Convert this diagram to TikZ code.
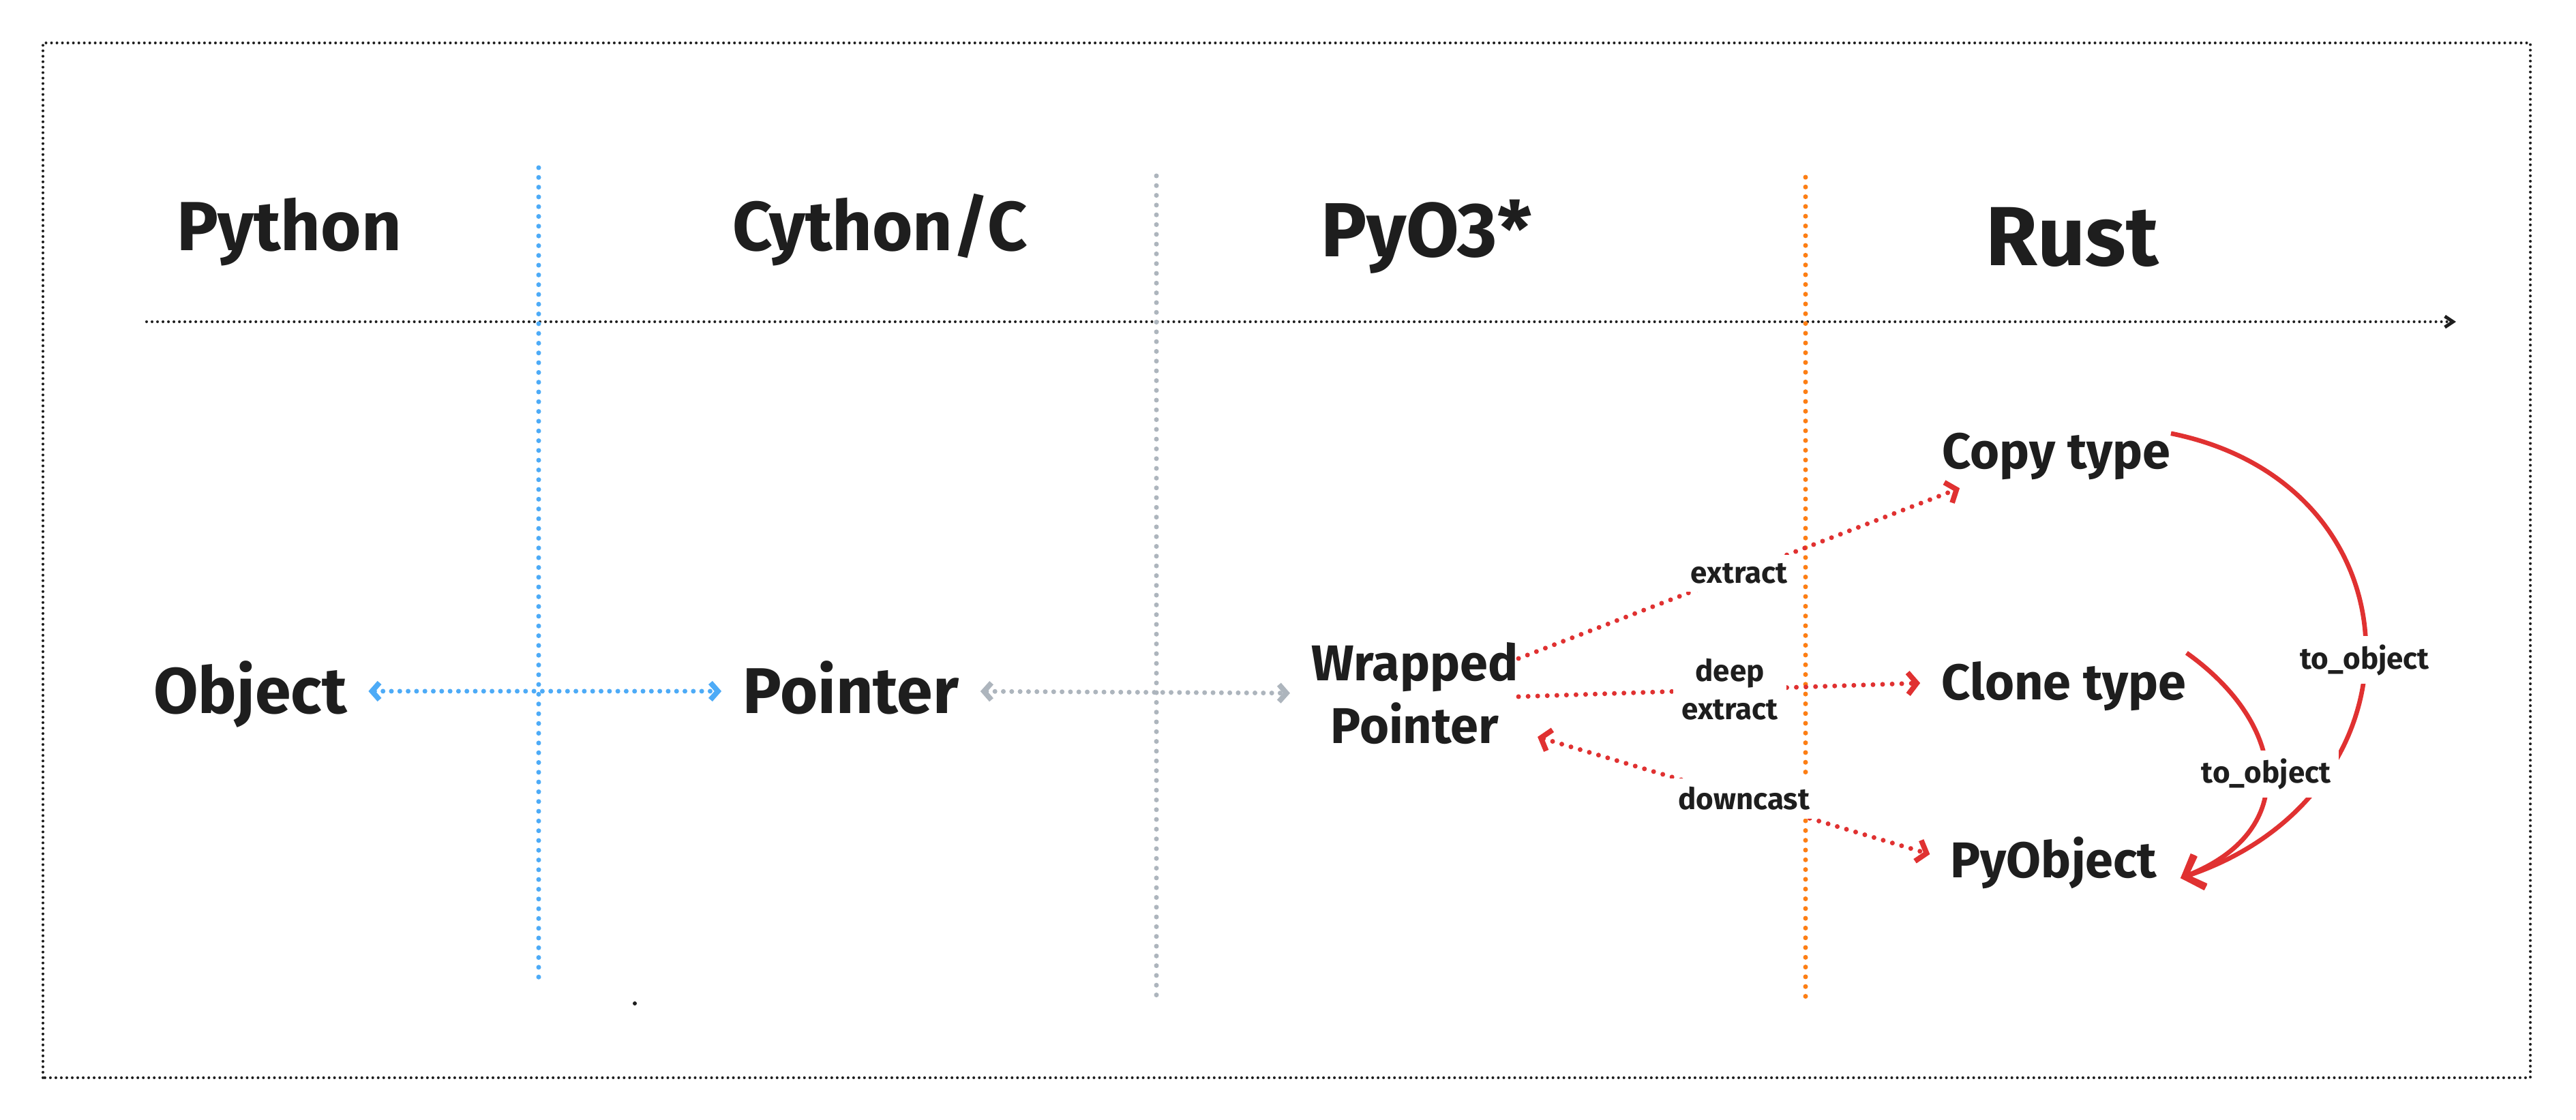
\documentclass[tikz,border=0pt]{standalone}
\usepackage{fontspec}
\setmainfont{Fira Sans}
\usetikzlibrary{arrows.meta}
\definecolor{ink}{HTML}{1E1E1E}
\definecolor{xred}{HTML}{E03131}
\definecolor{xblue}{HTML}{4DABF7}
\definecolor{xgray}{HTML}{ADB5BD}
\definecolor{xorange}{HTML}{FD7E14}

\begin{document}
\begin{tikzpicture}[
  every node/.style={text=ink},
  lane/.style={anchor=base, font=\bfseries\fontsize{29}{35}\selectfont},
  bigword/.style={inner sep=0pt, text height=18.6pt, text depth=0pt, font=\bfseries\fontsize{27}{32}\selectfont},
  word/.style={inner sep=0pt, text height=14.5pt, text depth=0pt, font=\bfseries\fontsize{21}{26}\selectfont},
  lbl/.style={fill=white, inner sep=0.12cm, align=center, font=\bfseries\fontsize{12.5}{16}\selectfont},
  fine/.style={ink, line width=1.15pt, line cap=round, dash pattern=on 0pt off 2.28pt},
  coarse/.style={line width=2pt, line cap=round, dash pattern=on 0pt off 4.07pt},
  reddots/.style={xred, line width=2pt, line cap=round, dash pattern=on 0pt off 4pt,
    >={Straight Barb[length=1.3mm, width=3.2mm, line width=2.2pt]}},
  link/.style={line width=2pt, line cap=round, dash pattern=on 0pt off 3.5pt, <->,
    shorten <=0.31cm, shorten >=0.31cm,
    >={Straight Barb[length=1.1mm, width=2.5mm, line width=2.2pt]}},
  conv/.style={xred, line width=1.9pt, -{Straight Barb[length=2.4mm, width=5mm, line width=2.6pt]}}
]
  \useasboundingbox (0,0) rectangle (37.78,16.43);
  \fill[white] (0,0) rectangle (37.78,16.43);
  \draw[fine] (0.63,0.62) rectangle (37.11,15.80);

  \node[lane] (python) at (4.24,12.75) {Python};
  \node[lane] (cython) at (12.91,12.75) {Cython/C};
  \node[lane, font=\bfseries\fontsize{32}{38}\selectfont] (pyo3) at (20.92,12.66) {PyO3*};
  \node[lane, font=\bfseries\fontsize{35}{42}\selectfont] (rust) at (30.39,12.53) {Rust};

  \draw[fine, -{Straight Barb[length=1.2mm, width=1.6mm, line width=1.4pt]}] (2.15,11.71) -- (36.02,11.71);
  \draw[coarse, xblue] (7.90,13.97) -- (7.90,1.97);
  \draw[coarse, xgray] (16.96,13.85) -- (16.96,1.80);
  \draw[coarse, xorange] (26.48,13.83) -- (26.48,1.80);
  \fill[ink] (9.31,1.71) circle (0.03);

  \node[bigword] (object) at (3.67,6.29) {Object};
  \node[bigword] (pointer) at (12.48,6.29) {Pointer};
  \node[word, text height=, text depth=, align=center] (wp) at (20.75,6.26) {Wrapped\\Pointer};
  \node[word] (copy) at (30.16,9.81) {Copy type};
  \node[word] (clone) at (30.27,6.42) {Clone type};
  \node[word] (pyobj) at (30.12,3.81) {PyObject};

  \draw[link, xblue] (object.east) -- (pointer.west);
  \draw[link, xgray] (pointer.east) -- (wp.west);
  \draw[reddots, ->] ([yshift=0.51cm]wp.east) -- node[lbl] {extract} ([shift={(0.26,-0.28)}]copy.south west);
  \draw[reddots, ->, shorten >=0.31cm] ([yshift=-0.05cm]wp.east) -- node[lbl] {deep\\extract} (clone.west);
  \draw[reddots, <->, shorten >=0.31cm] ([shift={(0.28,-0.64)}]wp.east) -- node[lbl] {downcast} (pyobj.west);
  \draw[conv] (copy.north east) .. controls +(3.7,-0.75) and +(3.7,1.25) .. node[lbl, pos=0.53] {to\_object} ([xshift=0.34cm]pyobj.south east);
  \draw[conv] ([yshift=0.17cm]clone.north east) .. controls +(1.46,-1.04) and +(1.77,0.70) .. node[lbl, pos=0.5] {to\_object} ([xshift=0.34cm]pyobj.south east);
\end{tikzpicture}
\end{document}
